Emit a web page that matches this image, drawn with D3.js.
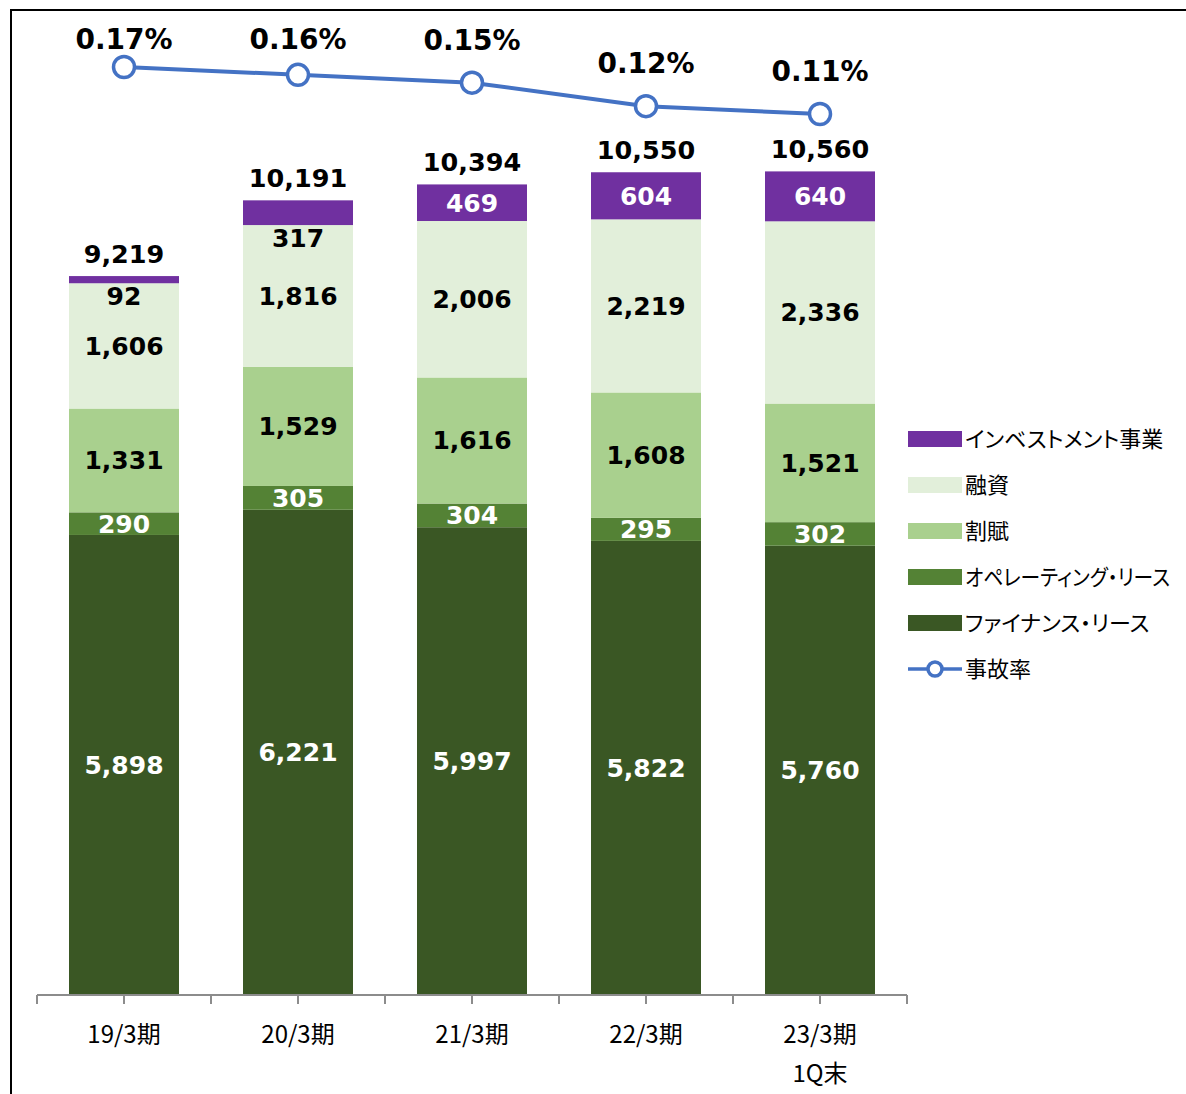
<!DOCTYPE html>
<html>
<head>
<meta charset="utf-8">
<script src="https://cdn.jsdelivr.net/npm/d3@7"></script>
<style>
  body { margin: 0; background: #fff; }
  svg { display: block; }
  .jp { font-feature-settings: "palt"; }
</style>
</head>
<body>
<div id="vis"></div>
<script>
const FRAME_WIDTH = 1186;
const FRAME_HEIGHT = 1094;

// data
const periods = ['19/3期', '20/3期', '21/3期', '22/3期', '23/3期'];
const periodSub = ['', '', '', '', '1Q末'];
const finance = [5898, 6221, 5997, 5822, 5760];
const operating = [290, 305, 304, 295, 302];
const installment = [1331, 1529, 1616, 1608, 1521];
const loans = [1606, 1816, 2006, 2219, 2336];
const invest = [92, 317, 469, 604, 640];
const totals = [9219, 10191, 10394, 10550, 10560];
const accidentRate = [0.17, 0.16, 0.15, 0.12, 0.11];

const seriesNames = ['ファイナンス・リース', 'オペレーティング・リース', '割賦', '融資', 'インベストメント事業'];
const seriesColors = ['#3A5724', '#548235', '#A9D08E', '#E2EFDA', '#7030A0'];
const labelColors = ['#fff', '#fff', '#000', '#000', '#fff'];
const lineName = '事故率';

const FONT = '"DejaVu Sans", Verdana, sans-serif';
const JFONT = '"Noto Sans CJK JP", "Noto Sans", sans-serif';

const svg = d3.select('#vis').append('svg')
  .attr('width', FRAME_WIDTH)
  .attr('height', FRAME_HEIGHT);

// outer frame
svg.append('rect')
  .attr('x', 11).attr('y', 10)
  .attr('width', 1300).attr('height', 1300)
  .attr('fill', 'none').attr('stroke', '#000').attr('stroke-width', 2);

const X = d3.scaleBand()
  .domain(periods)
  .range([37, 907])
  .paddingInner(64 / 174)
  .paddingOuter(32 / 174);

const Y = d3.scaleLinear().domain([0, 12000]).range([995, 59]);
const YR = d3.scaleLinear().domain([0.11, 0.17]).range([114, 67]);

const rows = periods.map((p, i) => ({
  period: p,
  s0: finance[i], s1: operating[i], s2: installment[i], s3: loans[i], s4: invest[i]
}));
const stack = d3.stack().keys(['s0', 's1', 's2', 's3', 's4'])(rows);

// bars
stack.forEach((layer, k) => {
  svg.append('g').selectAll('rect')
    .data(layer)
    .enter().append('rect')
      .attr('x', d => X(d.data.period))
      .attr('y', d => Y(d[1]))
      .attr('width', X.bandwidth())
      .attr('height', d => Y(d[0]) - Y(d[1]))
      .attr('fill', seriesColors[k]);
});

// segment labels (a thin top segment gets its label just below it)
const isThinTop = (d, k) => k === 4 && (Y(d[0]) - Y(d[1])) < 30;
stack.forEach((layer, k) => {
  svg.append('g').selectAll('text')
    .data(layer)
    .enter().append('text')
      .attr('x', d => X(d.data.period) + X.bandwidth() / 2)
      .attr('y', d => isThinTop(d, k) ? Y(d[0]) + 22 : (Y(d[0]) + Y(d[1])) / 2 + 9)
      .attr('text-anchor', 'middle')
      .attr('font-family', FONT)
      .attr('font-weight', 'bold')
      .attr('font-size', '25px')
      .attr('fill', d => isThinTop(d, k) ? '#000' : labelColors[k])
      .text(d => d3.format(',')(d[1] - d[0]));
});

// totals
svg.append('g').selectAll('text')
  .data(totals)
  .enter().append('text')
    .attr('x', (d, i) => X(periods[i]) + X.bandwidth() / 2)
    .attr('y', d => Y(d) - 13)
    .attr('text-anchor', 'middle')
    .attr('font-family', FONT)
    .attr('font-weight', 'bold')
    .attr('font-size', '25.5px')
    .attr('fill', '#000')
    .text(d => d3.format(',')(d));

// x axis
const axisG = svg.append('g').attr('transform', 'translate(0,995)');
axisG.append('line')
  .attr('x1', 37).attr('x2', 907)
  .attr('stroke', '#8c8c8c').attr('stroke-width', 2);
const step = X.step();
const tickXs = d3.range(0, periods.length * 2 + 1).map(j => 37 + j * step / 2);
axisG.selectAll('.tick')
  .data(tickXs)
  .enter().append('line')
    .attr('x1', d => d).attr('x2', d => d)
    .attr('y1', 0).attr('y2', 9)
    .attr('stroke', '#8c8c8c').attr('stroke-width', 2);
axisG.selectAll('.lab')
  .data(periods)
  .enter().append('text')
    .attr('x', d => X(d) + X.bandwidth() / 2)
    .attr('y', 48)
    .attr('text-anchor', 'middle')
    .attr('font-family', JFONT)
    .attr('font-size', '24px')
    .attr('fill', '#000')
    .text(d => d);
axisG.selectAll('.lab2')
  .data(periodSub)
  .enter().append('text')
    .attr('x', (d, i) => X(periods[i]) + X.bandwidth() / 2)
    .attr('y', 87)
    .attr('text-anchor', 'middle')
    .attr('font-family', JFONT)
    .attr('font-size', '24px')
    .attr('fill', '#000')
    .text(d => d);

// accident rate line
const cx = i => X(periods[i]) + X.bandwidth() / 2;
svg.append('path')
  .datum(accidentRate)
  .attr('fill', 'none')
  .attr('stroke', '#4472C4')
  .attr('stroke-width', 4)
  .attr('d', d3.line().x((d, i) => cx(i)).y(d => YR(d)));
svg.append('g').selectAll('circle')
  .data(accidentRate)
  .enter().append('circle')
    .attr('cx', (d, i) => cx(i))
    .attr('cy', d => YR(d))
    .attr('r', 10.5)
    .attr('fill', '#fff')
    .attr('stroke', '#4472C4')
    .attr('stroke-width', 3.5);
svg.append('g').selectAll('text')
  .data(accidentRate)
  .enter().append('text')
    .attr('x', (d, i) => cx(i))
    .attr('y', d => Math.max(49, YR(d) - 33))
    .attr('text-anchor', 'middle')
    .attr('font-family', FONT)
    .attr('font-weight', 'bold')
    .attr('font-size', '28px')
    .attr('fill', '#000')
    .text(d => d.toFixed(2) + '%');

// legend
const legendItems = seriesNames.map((n, k) => ({ name: n, color: seriesColors[k] })).reverse();
const leg = svg.append('g').attr('transform', 'translate(908,439)');
legendItems.forEach((it, i) => {
  const g = leg.append('g').attr('transform', 'translate(0,' + (i * 46) + ')');
  g.append('rect')
    .attr('x', 0).attr('y', -8)
    .attr('width', 54).attr('height', 16)
    .attr('fill', it.color);
  g.append('text')
    .attr('class', 'jp')
    .attr('x', 57).attr('y', 8)
    .attr('font-family', JFONT)
    .attr('font-size', '22px')
    .attr('fill', '#000')
    .text(it.name);
});
const lg = leg.append('g').attr('transform', 'translate(0,' + (5 * 46) + ')');
lg.append('line')
  .attr('x1', 0).attr('x2', 54)
  .attr('stroke', '#4472C4').attr('stroke-width', 3.5);
lg.append('circle')
  .attr('cx', 27).attr('r', 7)
  .attr('fill', '#fff').attr('stroke', '#4472C4').attr('stroke-width', 3.5);
lg.append('text')
  .attr('class', 'jp')
  .attr('x', 57).attr('y', 8)
  .attr('font-family', JFONT)
  .attr('font-size', '22px')
  .attr('fill', '#000')
  .text(lineName);

// shrink any legend text that would run too close to the right edge
leg.selectAll('text').each(function () {
  const w = this.getComputedTextLength();
  const maxW = 205;
  if (w > maxW) d3.select(this).attr('textLength', maxW).attr('lengthAdjust', 'spacingAndGlyphs');
});
</script>
</body>
</html>
